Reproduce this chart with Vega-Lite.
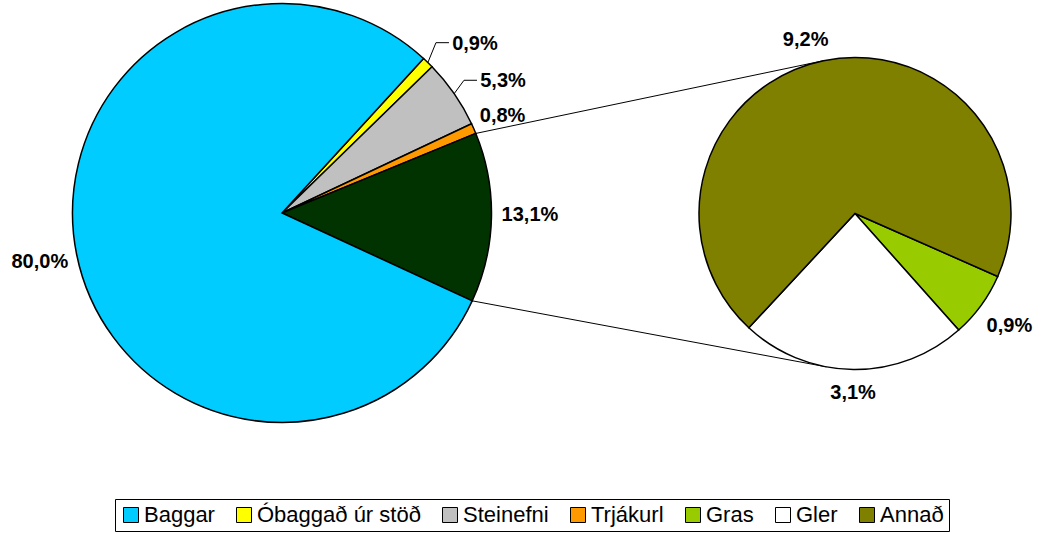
{
  "$schema": "https://vega.github.io/schema/vega-lite/v6.json",
  "width": 1041,
  "height": 534,
  "autosize": {"type": "none"},
  "padding": 0,
  "background": "white",
  "config": {
    "view": {"stroke": null},
    "legend": {
      "symbolType": "square",
      "symbolSize": 225,
      "symbolStrokeColor": "black",
      "symbolStrokeWidth": 1,
      "labelFont": "Liberation Sans",
      "labelFontSize": 22,
      "labelColor": "black",
      "labelLimit": 0,
      "labelOffset": 2,
      "columnPadding": 18,
      "strokeColor": "black",
      "padding": 5
    }
  },
  "data": {
    "values": [
      {"pie": "main", "idx": 1, "cat": "Óbaggað úr stöð", "value": 0.9},
      {"pie": "main", "idx": 2, "cat": "Steinefni", "value": 5.3},
      {"pie": "main", "idx": 3, "cat": "Trjákurl", "value": 0.8},
      {"pie": "main", "idx": 4, "cat": "Samtals", "value": 13.1},
      {"pie": "main", "idx": 5, "cat": "Baggar", "value": 80.0},
      {"pie": "sub", "idx": 1, "cat": "Gras", "value": 0.9},
      {"pie": "sub", "idx": 2, "cat": "Gler", "value": 3.1},
      {"pie": "sub", "idx": 3, "cat": "Annað", "value": 9.2}
    ]
  },
  "transform": [
    {"stack": "value", "groupby": ["pie"], "sort": [{"field": "idx", "order": "ascending"}], "as": ["s0", "s1"], "offset": "normalize"},
    {"calculate": "datum.pie === 'main' ? 0.7418 : 1.9862", "as": "start"},
    {"calculate": "datum.start + 2*PI*datum.s0", "as": "a0"},
    {"calculate": "datum.start + 2*PI*datum.s1", "as": "a1"},
    {"calculate": "(datum.a0 + datum.a1)/2", "as": "am"},
    {"calculate": "datum.pie === 'main' ? 282 : 855", "as": "cx"},
    {"calculate": "datum.pie === 'main' ? 213 : 213.5", "as": "cy"},
    {"calculate": "datum.pie === 'main' ? 209.5 : 156", "as": "r"},
    {"calculate": "datum.cat === 'Trjákurl' ? 241 : datum.cat === 'Samtals' ? 248 : datum.cat === 'Gras' ? 191 : datum.pie === 'sub' ? 180 : 247", "as": "lr"},
    {"calculate": "datum.cat === 'Óbaggað úr stöð' ? 21 : datum.cat === 'Steinefni' ? 18 : datum.cat === 'Annað' ? -13 : 0", "as": "ox"},
    {"calculate": "datum.cat === 'Óbaggað úr stöð' ? 8 : datum.cat === 'Steinefni' ? 9 : datum.cat === 'Annað' ? 3 : datum.cat === 'Samtals' ? -3 : 0", "as": "oy"},
    {"calculate": "datum.cx + datum.lr*sin(datum.am) + datum.ox", "as": "lx"},
    {"calculate": "datum.cy - datum.lr*cos(datum.am) + datum.oy", "as": "ly"},
    {"calculate": "replace(format(datum.value, '.1f'), '.', ',') + '%'", "as": "label"}
  ],
  "layer": [
    {
      "transform": [
        {"filter": "datum.cat === 'Samtals'"},
        {"fold": ["a0", "a1"], "as": ["edge", "ang"]},
        {"calculate": "datum.cx + datum.r*sin(datum.ang)", "as": "px"},
        {"calculate": "datum.cy - datum.r*cos(datum.ang)", "as": "py"},
        {"calculate": "sqrt(pow(855 - datum.px, 2) + pow(213.5 - datum.py, 2))", "as": "d"},
        {"calculate": "atan2(213.5 - datum.py, 855 - datum.px) + (datum.edge === 'a0' ? -1 : 1)*asin(156/datum.d)", "as": "dir"},
        {"calculate": "sqrt(datum.d*datum.d - 156*156)", "as": "L"},
        {"calculate": "datum.px + datum.L*cos(datum.dir)", "as": "qx"},
        {"calculate": "datum.py + datum.L*sin(datum.dir)", "as": "qy"}
      ],
      "mark": {"type": "rule", "color": "black", "strokeWidth": 1},
      "encoding": {
        "x": {"field": "px", "type": "quantitative", "scale": null},
        "y": {"field": "py", "type": "quantitative", "scale": null},
        "x2": {"field": "qx"},
        "y2": {"field": "qy"}
      }
    },
    {
      "mark": {"type": "arc", "stroke": "black", "strokeWidth": 1.5},
      "encoding": {
        "x": {"field": "cx", "type": "quantitative", "scale": null},
        "y": {"field": "cy", "type": "quantitative", "scale": null},
        "theta": {"field": "a0", "type": "quantitative", "scale": null},
        "theta2": {"field": "a1"},
        "radius": {"field": "r", "type": "quantitative", "scale": null},
        "color": {
          "condition": {"test": "datum.cat === 'Samtals'", "value": "#003300"},
          "field": "cat",
          "type": "nominal",
          "scale": {
            "domain": ["Baggar", "Óbaggað úr stöð", "Steinefni", "Trjákurl", "Gras", "Gler", "Annað"],
            "range": ["#00CCFF", "#FFFF00", "#C0C0C0", "#FF9900", "#99CC00", "#FFFFFF", "#808000"]
          },
          "legend": {
            "title": null,
            "orient": "none",
            "legendX": 115,
            "legendY": 499,
            "direction": "horizontal",
            "symbolStrokeColor": "black",
            "symbolStrokeWidth": 1,
            "encode": {"symbols": {"update": {"stroke": {"value": "black"}, "strokeWidth": {"value": 1}}}}
          }
        }
      }
    },
    {
      "transform": [
        {"filter": "datum.cat === 'Óbaggað úr stöð' || datum.cat === 'Steinefni'"},
        {"calculate": "datum.cx + datum.r*sin(datum.am)", "as": "ex"},
        {"calculate": "datum.cy - datum.r*cos(datum.am)", "as": "ey"},
        {"calculate": "datum.lx - 39", "as": "kx"},
        {"calculate": "datum.ly - 1", "as": "ky"}
      ],
      "mark": {"type": "rule", "color": "black", "strokeWidth": 1},
      "encoding": {
        "x": {"field": "ex", "type": "quantitative", "scale": null},
        "y": {"field": "ey", "type": "quantitative", "scale": null},
        "x2": {"field": "kx"},
        "y2": {"field": "ky"}
      }
    },
    {
      "transform": [
        {"filter": "datum.cat === 'Óbaggað úr stöð' || datum.cat === 'Steinefni'"},
        {"calculate": "datum.lx - 39", "as": "kx"},
        {"calculate": "datum.lx - 26", "as": "tx"},
        {"calculate": "datum.ly - 1", "as": "ky"}
      ],
      "mark": {"type": "rule", "color": "black", "strokeWidth": 1},
      "encoding": {
        "x": {"field": "kx", "type": "quantitative", "scale": null},
        "y": {"field": "ky", "type": "quantitative", "scale": null},
        "x2": {"field": "tx"},
        "y2": {"field": "ky"}
      }
    },
    {
      "mark": {"type": "text", "font": "Liberation Sans", "fontSize": 20, "fontWeight": "bold", "color": "black"},
      "encoding": {
        "x": {"field": "lx", "type": "quantitative", "scale": null},
        "y": {"field": "ly", "type": "quantitative", "scale": null},
        "text": {"field": "label"}
      }
    }
  ]
}
